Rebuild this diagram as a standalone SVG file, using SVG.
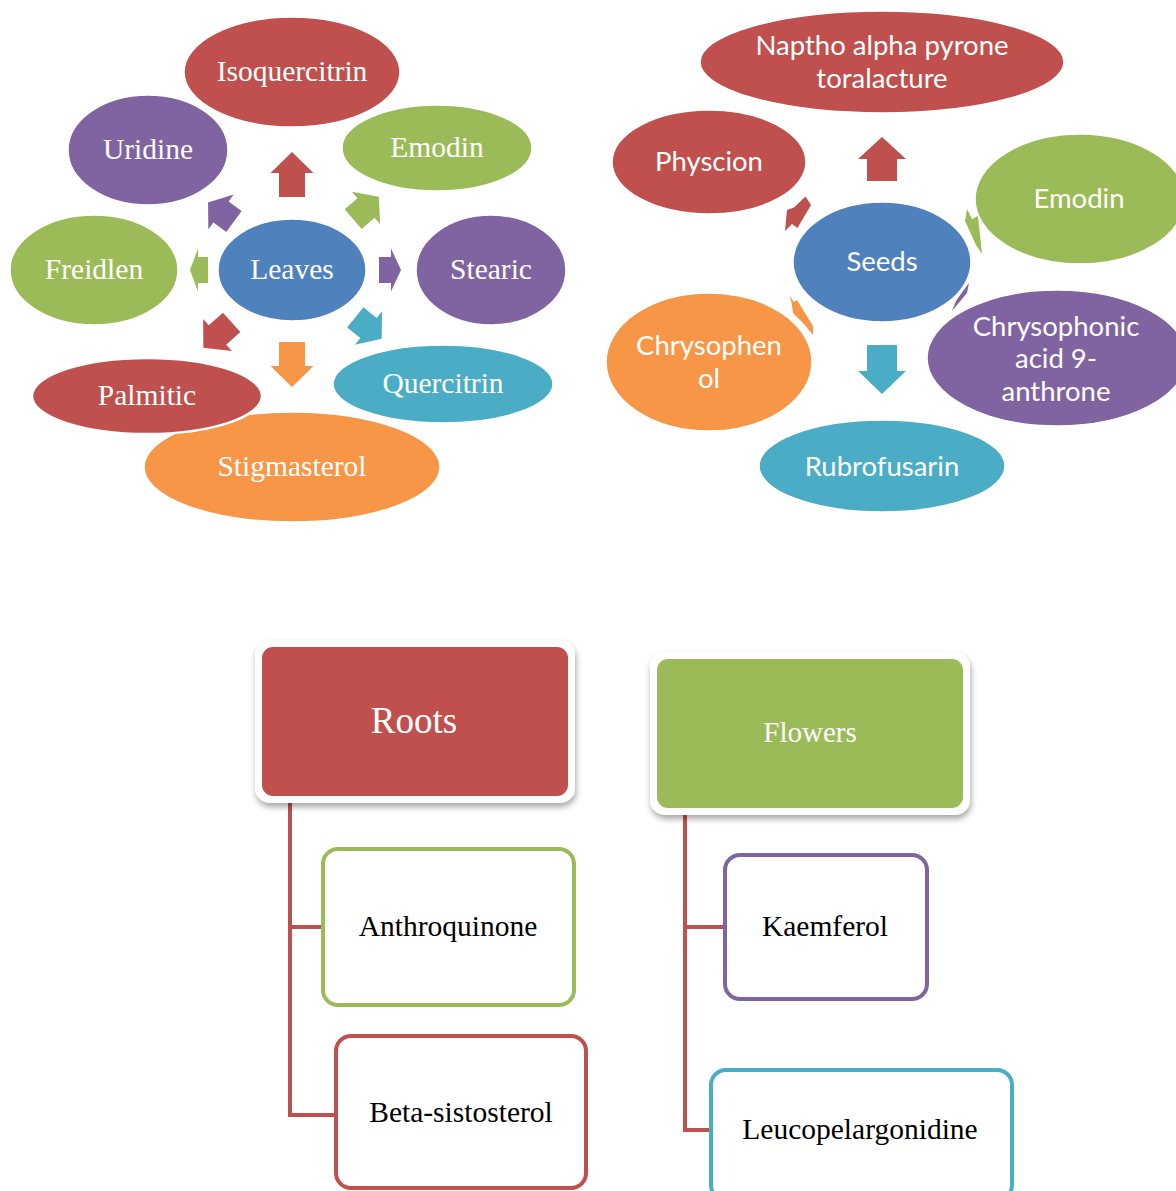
<svg xmlns="http://www.w3.org/2000/svg" width="1176" height="1191" viewBox="0 0 1176 1191">
<style>
.serif{font-family:"Liberation Serif","Times New Roman",serif;}
.sans{font-family:Lato,"Open Sans",sans-serif;}
.wt{fill:#FFFFFF;text-anchor:middle;dominant-baseline:central;}
.bt{fill:#000000;text-anchor:middle;dominant-baseline:central;font-size:29.5px;}
.el{stroke:#FFFFFF;stroke-width:1.5;}
.red{fill:#C0504D;}
.grn{fill:#9BBB59;}
.pur{fill:#8064A2;}
.tea{fill:#4BACC6;}
.org{fill:#F79646;}
.blu{fill:#4F81BD;}
.box{fill:#FFFFFF;stroke-width:4;}
.conn{fill:none;stroke:#C0504D;stroke-width:4;}
</style>
<defs>
<filter id="sh" x="-10%" y="-10%" width="120%" height="130%">
<feDropShadow dx="1" dy="4" stdDeviation="3" flood-color="#000000" flood-opacity="0.35"/>
</filter>
</defs>
<rect width="1176" height="1191" fill="#FFFFFF"/>

<g id="leaves-arrows">
<path class="red" d="M-22.5,-13 H1.5 V-21.5 L22.5,0 L1.5,21.5 V13 H-22.5Z" transform="translate(292,174.5) rotate(-90)"/>
<path class="org" d="M-22.5,-13 H1.5 V-21.5 L22.5,0 L1.5,21.5 V13 H-22.5Z" transform="translate(292,364.5) rotate(90)"/>
<path class="pur" d="M-11,-13 H1 V-21.5 L11,0 L1,21.5 V13 H-11Z" transform="translate(390,270)"/>
<path class="grn" d="M-9,-13 H1 V-21.5 L9,0 L1,21.5 V13 H-9Z" transform="translate(199,270) rotate(180)"/>
<path class="grn" d="M-17,-13 H0 V-21.5 L17,0 L0,21.5 V13 H-17Z" transform="translate(366,208) rotate(-41)"/>
<path class="pur" d="M-16,-13 H0 V-21.5 L16,0 L0,21.5 V13 H-16Z" transform="translate(221,212) rotate(-144)"/>
<path class="red" d="M-19,-13 H0 V-21.5 L19,0 L0,21.5 V13 H-19Z" transform="translate(217.5,335) rotate(138)"/>
<path class="tea" d="M-17,-13 H0 V-21.5 L17,0 L0,21.5 V13 H-17Z" transform="translate(368.5,328) rotate(39)"/>
</g>

<g id="isoquercitrin"><ellipse class="red el" cx="292" cy="72" rx="108" ry="55"/><text class="serif wt" x="292" y="71" font-size="29.5">Isoquercitrin</text></g>
<g id="uridine"><ellipse class="pur el" cx="148" cy="150" rx="80" ry="55"/><text class="serif wt" x="148" y="149" font-size="29.5">Uridine</text></g>
<g id="emodin-l"><ellipse class="grn el" cx="437" cy="148" rx="95" ry="43"/><text class="serif wt" x="437" y="147" font-size="29.5">Emodin</text></g>
<g id="freidlen"><ellipse class="grn el" cx="94" cy="270" rx="84" ry="55"/><text class="serif wt" x="94" y="269" font-size="29.5">Freidlen</text></g>
<g id="leaves"><ellipse class="blu el" cx="292" cy="270" rx="74" ry="51"/><text class="serif wt" x="292" y="269" font-size="29.5">Leaves</text></g>
<g id="stearic"><ellipse class="pur el" cx="491" cy="270" rx="75" ry="55"/><text class="serif wt" x="491" y="269" font-size="29.5">Stearic</text></g>
<g id="quercitrin"><ellipse class="tea el" cx="443" cy="384" rx="110" ry="39"/><text class="serif wt" x="443" y="383" font-size="29.5">Quercitrin</text></g>
<g id="stigmasterol"><ellipse class="org el" cx="292" cy="467" rx="148" ry="55"/><text class="serif wt" x="292" y="466" font-size="29.5">Stigmasterol</text></g>
<g id="palmitic"><ellipse class="red" stroke="#FFFFFF" stroke-width="2.5" cx="147" cy="396" rx="115" ry="38"/><text class="serif wt" x="147" y="395" font-size="29.5">Palmitic</text></g>

<g id="seeds-arrows">
<path class="red" d="M-22,-15 H0 V-24 L22,0 L0,24 V15 H-22Z" transform="translate(882,159) rotate(-90)"/>
<path class="tea" d="M-24.5,-15 H1.5 V-24 L24.5,0 L1.5,24 V15 H-24.5Z" transform="translate(882,369.5) rotate(90)"/>
<polygon class="red" points="785,231 787,210 794,207.5 805.5,196.5 811,205 797.5,228 792,224"/>
<polygon class="grn" points="967,209 972,219 978,216 982,254 976,245 965,221"/>
<polygon class="pur" points="969,283 967,293 952,311 956,301 963,291"/>
<polygon class="org" points="790,296 794,302 797,300 813,326 813,335 804,324 793,313 792,305"/>
</g>

<g id="naptho"><ellipse class="red el" cx="882" cy="62" rx="182" ry="51"/><text class="sans wt" font-size="27.5"><tspan x="882" y="44">Naptho alpha pyrone</tspan><tspan x="882" y="77">toralacture</tspan></text></g>
<g id="physcion"><ellipse class="red el" cx="709" cy="162" rx="97" ry="52"/><text class="sans wt" x="709" y="160" font-size="27.5">Physcion</text></g>
<g id="emodin-s"><ellipse class="grn el" cx="1080" cy="199" rx="105" ry="65"/><text class="sans wt" x="1079" y="197" font-size="27.5">Emodin</text></g>
<g id="seeds"><ellipse class="blu el" cx="882" cy="262" rx="89" ry="60"/><text class="sans wt" x="882" y="260" font-size="27.5">Seeds</text></g>
<g id="chrysophonic"><ellipse class="pur el" cx="1057" cy="358" rx="130" ry="68"/><text class="sans wt" font-size="27.5"><tspan x="1056" y="325">Chrysophonic</tspan><tspan x="1056" y="357">acid 9-</tspan><tspan x="1056" y="390">anthrone</tspan></text></g>
<g id="chrysophenol"><ellipse class="org el" cx="709" cy="362" rx="103" ry="69"/><text class="sans wt" font-size="27.5"><tspan x="709" y="344">Chrysophen</tspan><tspan x="709" y="377">ol</tspan></text></g>
<g id="rubrofusarin"><ellipse class="tea el" cx="882" cy="466" rx="123" ry="46"/><text class="sans wt" x="882" y="465" font-size="27.5">Rubrofusarin</text></g>

<g id="connectors">
<path class="conn" d="M290,803 V1115 H335 M290,927 H322"/>
<path class="conn" d="M685,815 V1130 H710 M685,927 H724"/>
</g>

<g id="roots">
<rect x="255" y="640" width="320" height="163" rx="15" fill="#FFFFFF" filter="url(#sh)"/>
<rect x="262" y="647" width="306" height="149" rx="11" class="red"/>
<text class="serif wt" x="414" y="720" font-size="37">Roots</text>
</g>
<g id="flowers">
<rect x="650" y="652" width="320" height="163" rx="15" fill="#FFFFFF" filter="url(#sh)"/>
<rect x="657" y="659" width="306" height="149" rx="11" class="grn"/>
<text class="serif wt" x="810" y="732" font-size="29">Flowers</text>
</g>
<g id="anthroquinone">
<rect class="box" x="323" y="849" width="251" height="156" rx="15" stroke="#9BBB59"/>
<text class="serif bt" x="448" y="926">Anthroquinone</text>
</g>
<g id="beta-sistosterol">
<rect class="box" x="336" y="1036" width="250" height="152" rx="15" stroke="#C0504D"/>
<text class="serif bt" x="461" y="1112">Beta-sistosterol</text>
</g>
<g id="kaemferol">
<rect class="box" x="725" y="855" width="202" height="144" rx="15" stroke="#8064A2"/>
<text class="serif bt" x="825" y="926">Kaemferol</text>
</g>
<g id="leucopelargonidine">
<rect class="box" x="711" y="1070" width="301" height="130" rx="15" stroke="#4BACC6"/>
<text class="serif bt" x="860" y="1129">Leucopelargonidine</text>
</g>
</svg>
